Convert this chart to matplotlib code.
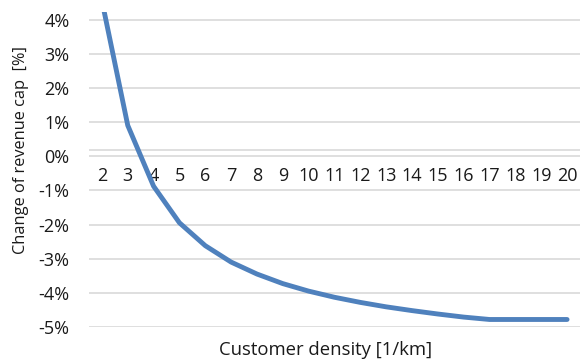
import matplotlib
matplotlib.use("Agg")
import matplotlib.pyplot as plt
import numpy as np

density = [2, 3, 4, 5, 6, 7, 8, 9, 10, 11, 12, 13, 14, 15, 16, 17, 18, 19, 20]
change_pct = [4.55, 0.9, -0.88, -1.95, -2.62, -3.1, -3.45, -3.73, -3.95, -4.13,
              -4.28, -4.41, -4.52, -4.62, -4.71, -4.78, -4.78, -4.78, -4.78]
y_ticks = [-5, -4, -3, -2, -1, 0, 1, 2, 3, 4]
y_tick_labels = ["-5%", "-4%", "-3%", "-2%", "-1%", "0%", "1%", "2%", "3%", "4%"]

plt.rcParams['font.family'] = ['Open Sans', 'DejaVu Sans']

W, H = 585, 362
fig = plt.figure(figsize=(W / 100, H / 100), dpi=100)
ax = fig.add_axes([89 / W, 1 - 327 / H, (580 - 89) / W, (327 - 12) / H])

grid_c = '#d9d9d9'
for v in y_ticks:
    ax.axhline(v, color=grid_c, lw=1.2, zorder=1)
ax.axhline(0.17, color=grid_c, lw=1.2, zorder=1)

ax.plot(density, change_pct, color='#4f81bd', lw=3.5, solid_capstyle='round',
        solid_joinstyle='round', zorder=3)

ax.spines['bottom'].set_position(('data', 0))
ax.spines['bottom'].set_visible(False)
for s in ['top', 'right', 'left']:
    ax.spines[s].set_visible(False)

ax.set_xlim(1.5, 20.5)
ax.set_ylim(-5, 4.22)
ax.set_yticks(y_ticks)
ax.set_yticklabels(y_tick_labels)
ax.tick_params(axis='y', length=0, pad=14, labelsize=13, labelcolor='#1a1a1a')

ax.set_xticks(density)
ax.set_xticklabels([str(d) for d in density])
ax.tick_params(axis='x', length=0, pad=8, labelsize=13, labelcolor='#1a1a1a')

fig.text(326 / W, 1 - 350 / H, "Customer density [1/km]", ha='center', va='center',
         fontsize=13.3, color='#1a1a1a')
fig.text(21 / W, 1 - 150 / H, "Change of revenue cap  [%]", ha='center', va='center',
         rotation=90, fontsize=11.8, color='#1a1a1a')

fig.savefig("out.png", dpi=100)
